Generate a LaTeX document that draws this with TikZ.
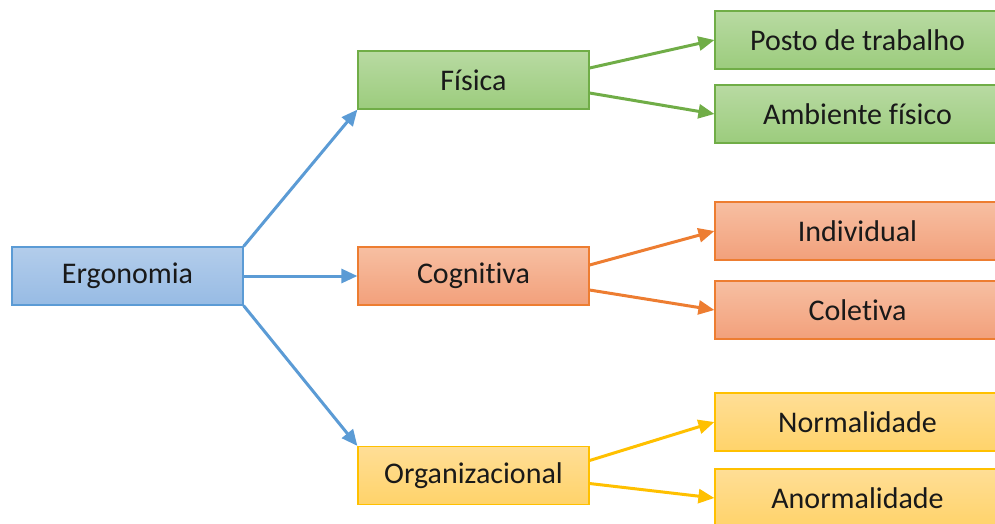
\documentclass[tikz,border=0pt]{standalone}
\usepackage{fontspec}
\setmainfont{Carlito}[Ligatures=NoCommon]
\usetikzlibrary{arrows.meta}
\definecolor{bluefillA}{HTML}{B3CDEB}
\definecolor{bluefillB}{HTML}{97BBE4}
\definecolor{blueline}{HTML}{5B9BD5}
\definecolor{greenfillA}{HTML}{B8DAA2}
\definecolor{greenfillB}{HTML}{9CCC7D}
\definecolor{greenline}{HTML}{70AD47}
\definecolor{orangefillA}{HTML}{F7BFA2}
\definecolor{orangefillB}{HTML}{F2A07B}
\definecolor{orangeline}{HTML}{ED7D31}
\definecolor{yellowfillA}{HTML}{FFDE96}
\definecolor{yellowfillB}{HTML}{FFD36A}
\definecolor{yellowline}{HTML}{FFC000}
\tikzset{
  x=1pt, y=-1pt,
  box/.style={draw, line width=1.2pt, minimum height=58pt, inner sep=0pt,
    font=\fontsize{30pt}{36pt}\selectfont, text=black!90},
  lvlbox/.style={box, minimum width=231pt},
  leafbox/.style={box, minimum width=285pt},
  bluebox/.style={draw=blueline, top color=bluefillA, bottom color=bluefillB},
  greenbox/.style={draw=greenline, top color=greenfillA, bottom color=greenfillB},
  orangebox/.style={draw=orangeline, top color=orangefillA, bottom color=orangefillB},
  yellowbox/.style={draw=yellowline, top color=yellowfillA, bottom color=yellowfillB},
  link/.style={line width=3pt, -{Triangle[length=16pt,width=14pt]}},
}
\begin{document}
\begin{tikzpicture}
\useasboundingbox (0,0) rectangle (995,523);
\clip (0,0) rectangle (995,523);
% root
\node[lvlbox, bluebox] (erg) at (127.5,276) {Ergonomia};
% second level
\node[lvlbox, greenbox] (fis) at (473.5,80) {Física};
\node[lvlbox, orangebox] (cog) at (473.5,276) {Cognitiva};
\node[lvlbox, yellowbox] (org) at (473.5,475.5) {Organizacional};
% leaves
\node[leafbox, greenbox] (posto) at (857.5,40) {Posto de trabalho};
\node[leafbox, greenbox] (amb) at (857.5,114) {Ambiente físico};
\node[leafbox, orangebox] (ind) at (857.5,231) {Individual};
\node[leafbox, orangebox] (col) at (857.5,310) {Coletiva};
\node[leafbox, yellowbox] (nor) at (857.5,422) {Normalidade};
\node[leafbox, yellowbox] (anor) at (857.5,498) {Anormalidade};
% root connectors
\draw[link, blueline] (erg.north east) -- (fis.south west);
\draw[link, blueline] (erg.east) -- (cog.west);
\draw[link, blueline] (erg.south east) -- (org.north west);
% leaf connectors (canvas yshift points up)
\draw[link, greenline] ([yshift=12pt]fis.east) -- (posto.west);
\draw[link, greenline] ([yshift=-13pt]fis.east) -- (amb.west);
\draw[link, orangeline] ([yshift=11pt]cog.east) -- (ind.west);
\draw[link, orangeline] ([yshift=-14pt]cog.east) -- (col.west);
\draw[link, yellowline] ([yshift=15pt]org.east) -- (nor.west);
\draw[link, yellowline] ([yshift=-8pt]org.east) -- (anor.west);
\end{tikzpicture}
\end{document}
